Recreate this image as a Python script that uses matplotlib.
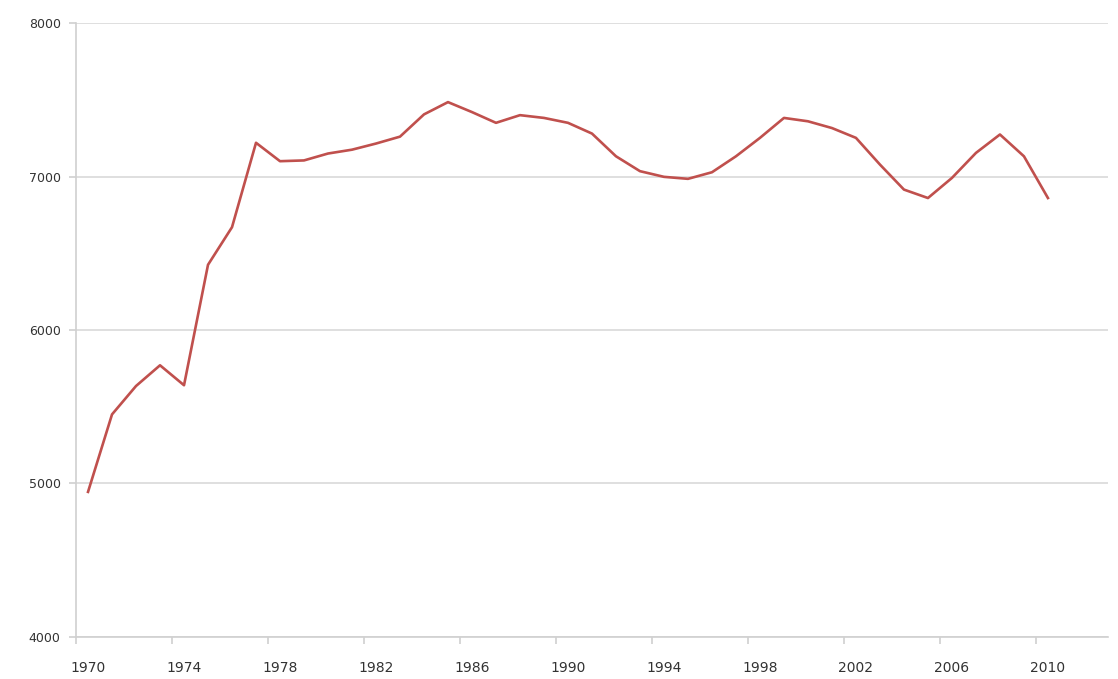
import matplotlib
matplotlib.use('Agg')
import matplotlib.pyplot as plt

years = list(range(1970, 2011))
values = [4945, 5450, 5635, 5770, 5640, 6425, 6670, 7220, 7100, 7105,
          7150, 7175, 7215, 7260, 7405, 7485, 7420, 7350, 7400, 7382,
          7350, 7280, 7132, 7035, 6998, 6985, 7028, 7132, 7252, 7382,
          7360, 7316, 7252, 7078, 6915, 6860, 6991, 7154, 7274, 7132,
          6860]
label_years = list(range(1970, 2011, 4))
y_ticks = [4000, 5000, 6000, 7000, 8000]

fig = plt.figure(figsize=(11.18, 6.79), dpi=100)
ax = fig.add_axes([0.068, 0.062, 0.923, 0.904])

ax.plot(years, values, color='#c0504d', linewidth=1.9, solid_joinstyle='round')

ax.set_xlim(1969.5, 2012.5)
ax.set_ylim(4000, 8000)
ax.set_yticks(y_ticks)
ax.set_xticks(label_years)
ax.set_xticks([y - 0.5 for y in label_years] + [2013.5], minor=True)
ax.set_xlim(1969.5, 2012.5)

ax.grid(axis='y', color='#d9d9d9', linewidth=1.2)
ax.set_axisbelow(True)
for s in ['top', 'right']:
    ax.spines[s].set_visible(False)
for s in ['left', 'bottom']:
    ax.spines[s].set_color('#d0d0d0')
    ax.spines[s].set_linewidth(1.2)

ax.tick_params(axis='y', length=5, width=1.2, color='#d0d0d0', pad=6,
               labelsize=9, labelcolor='#333333')
ax.tick_params(axis='x', which='major', length=0, pad=17,
               labelsize=10, labelcolor='#333333')
ax.tick_params(axis='x', which='minor', length=5, width=1.2, color='#d0d0d0')

fig.savefig('out.png', dpi=100)
